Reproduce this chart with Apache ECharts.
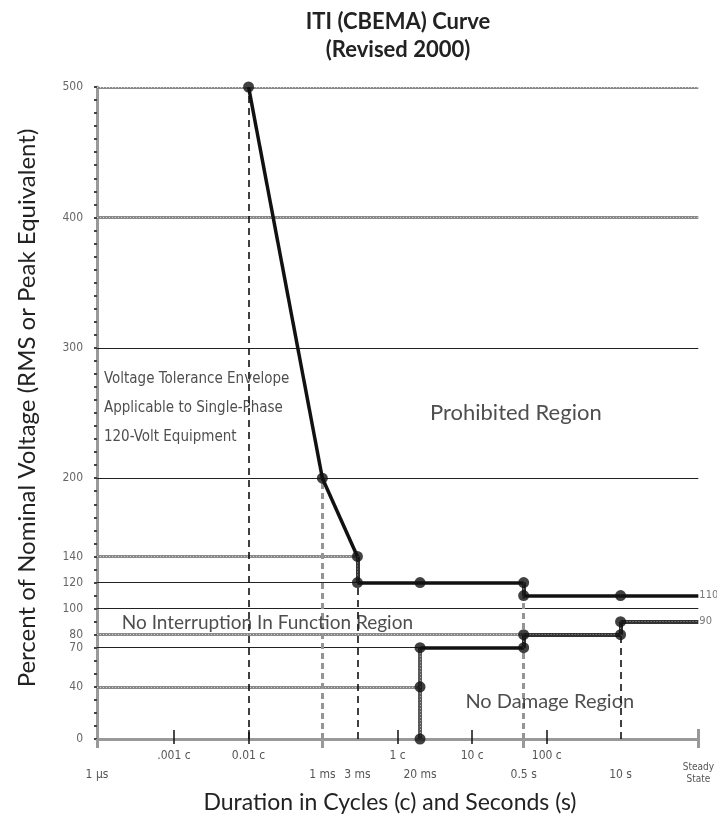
<!DOCTYPE html>
<html>
<head>
<meta charset="utf-8">
<script src="https://cdn.jsdelivr.net/npm/echarts@6/dist/echarts.min.js"></script>
<style>html,body{margin:0;padding:0;background:#fff}#c{width:717px;height:824px}</style>
</head>
<body>
<div id="c"></div>
<script>
// ---- tick labels and their (schematic, log-like) axis positions ----
const cycleTicks = ['.001 c', '0.01 c', '1 c', '10 c', '100 c'];
const cyclePos   = [-3, -2, 0, 1, 2];
const timeTicks  = ['1 µs', '1 ms', '3 ms', '20 ms', '0.5 s', '10 s'];
const timePos    = [-4.033, -1.01, -0.54, 0.3, 1.69, 2.99];
const steadyLabel = 'Steady State';
const steadyPos   = 4.033;
const yTickLabels = [0, 40, 70, 80, 100, 120, 140, 200, 300, 400, 500];

// ---- ITI curve ----
const upperDur = ['0.01 c', '1 ms', '3 ms', '3 ms', '20 ms', '0.5 s', '0.5 s', '10 s', 'Steady State'];
const upperPct = [500, 200, 140, 120, 120, 120, 110, 110, 110];
const lowerDur = ['20 ms', '20 ms', '20 ms', '0.5 s', '0.5 s', '10 s', '10 s', 'Steady State'];
const lowerPct = [0, 40, 70, 70, 80, 80, 90, 90];

// ---- reference grid lines (start at 1 µs) ----
const gridPct = [500, 400, 300, 200, 140, 120, 100, 80, 70, 40];
const gridEnd = ['Steady State', 'Steady State', 'Steady State', 'Steady State', '3 ms', '3 ms', 'Steady State', '0.5 s', '20 ms', '20 ms'];

// ---- vertical drop lines ----
const dropDur = ['0.01 c', '1 ms', '3 ms', '0.5 s', '10 s'];
const dropTop = [500, 200, 120, 110, 80];

// ---- styles (kept apart from the data) ----
const upperKind = ['bold', 'bold', 'darkhatch', 'bold', 'bold', 'darkhatch', 'bold', 'bold'];
const lowerKind = ['hatch2', 'hatch2', 'bold', 'darkhatch', 'darkhatch', 'darkhatch', 'darkhatch'];
const gridKind  = ['hatch', 'hatch', 'thin', 'thin', 'hatch', 'thin', 'thin', 'hatch', 'thin', 'hatch'];
const dropKind  = ['dash', 'hatchdash', 'dash', 'hatchdash', 'dash'];
const STY = {
  thin: [{color: '#222', width: 1.2}],
  hatch: [{color: '#8a8a8a', width: 3.2}, {color: '#d4d4d4', width: 1, type: [1, 2]}],
  hatch2: [{color: '#5a5a5a', width: 4}, {color: '#b0b0b0', width: 1, type: [1, 2]}],
  darkhatch: [{color: '#333', width: 4}, {color: '#999', width: 1, type: [1, 2]}],
  bold: [{color: '#111', width: 3.5}],
  dash: [{color: '#111', width: 1.6, type: [7, 5]}],
  hatchdash: [{color: '#959595', width: 3, type: [6, 4]}]
};

const NARROW = "'Liberation Sans Narrow','DejaVu Sans Condensed',sans-serif";
const SANS = "Lato,'Open Sans',sans-serif";

const posOf = (name) => {
  if (name === steadyLabel) return steadyPos;
  let i = timeTicks.indexOf(name);
  if (i >= 0) return timePos[i];
  i = cycleTicks.indexOf(name);
  return cyclePos[i];
};
const labelAt = (vals, labels) => (v) => {
  for (let i = 0; i < vals.length; i++) if (Math.abs(vals[i] - v) < 1e-6) return labels[i];
  return '';
};

function segs(durs, pcts, kinds) {
  const out = [];
  for (let i = 0; i < durs.length - 1; i++) {
    STY[kinds[i]].forEach(ls => out.push({
      coords: [[posOf(durs[i]), pcts[i]], [posOf(durs[i + 1]), pcts[i + 1]]],
      lineStyle: Object.assign({opacity: 1}, ls)
    }));
  }
  return out;
}
const gridData = [];
gridPct.forEach((p, i) => STY[gridKind[i]].forEach(ls => gridData.push({
  coords: [[timePos[0], p], [posOf(gridEnd[i]), p]], lineStyle: Object.assign({opacity: 1}, ls)
})));
const dropData = [];
dropDur.forEach((d, i) => STY[dropKind[i]].forEach(ls => dropData.push({
  coords: [[posOf(d), 0], [posOf(d), dropTop[i]]], lineStyle: Object.assign({opacity: 1}, ls)
})));

const markerPts = [];
upperDur.forEach((d, i) => { if (d !== steadyLabel) markerPts.push([posOf(d), upperPct[i]]); });
lowerDur.forEach((d, i) => { if (d !== steadyLabel) markerPts.push([posOf(d), lowerPct[i]]); });

const baseX = {type: 'value', gridIndex: 0, position: 'bottom', min: timePos[0], max: steadyPos,
  splitLine: {show: false}, axisLine: {show: false}};

const chart = echarts.init(document.getElementById('c'));
chart.setOption({
  animation: false,
  backgroundColor: '#fff',
  grid: {left: 97, top: 87, width: 603, height: 652},
  graphic: [
    {type: 'text', style: {text: 'ITI (CBEMA) Curve', x: 398, y: 22, textAlign: 'center', textVerticalAlign: 'middle',
      font: "bold 22px " + SANS, fill: '#222'}},
    {type: 'text', style: {text: '(Revised 2000)', x: 398, y: 50, textAlign: 'center', textVerticalAlign: 'middle',
      font: "bold 22px " + SANS, fill: '#222'}},
    {type: 'text', style: {text: 'Duration in Cycles (c) and Seconds (s)', x: 390, y: 803, textAlign: 'center',
      textVerticalAlign: 'middle', font: "23px " + SANS, fill: '#222'}},
    {type: 'text', x: 27, y: 408, rotation: Math.PI / 2,
      style: {text: 'Percent of Nominal Voltage (RMS or Peak Equivalent)', x: 0, y: 0, textAlign: 'center',
      textVerticalAlign: 'middle', font: "24px " + SANS, fill: '#222'}}
  ],
  xAxis: [
    Object.assign({}, baseX, {
      axisLine: {show: true, onZero: false, lineStyle: {color: '#999', width: 3}},
      axisTick: {show: true, customValues: cyclePos, inside: true, length: 9, lineStyle: {color: '#111', width: 1.5}},
      axisLabel: {customValues: cyclePos, formatter: labelAt(cyclePos, cycleTicks), margin: 11,
        fontSize: 12, color: '#555', fontFamily: NARROW}
    }),
    Object.assign({}, baseX, {
      axisTick: {show: true, customValues: cyclePos, inside: false, length: 5, lineStyle: {color: '#111', width: 1.5}},
      axisLabel: {customValues: timePos, formatter: labelAt(timePos, timeTicks), margin: 30,
        fontSize: 12, color: '#555', fontFamily: NARROW}
    }),
    Object.assign({}, baseX, {
      axisTick: {show: true, customValues: [timePos[0], timePos[1], timePos[4], steadyPos], inside: false, length: 9,
        lineStyle: {color: '#999', width: 3}},
      axisLabel: {show: false}
    }),
    Object.assign({}, baseX, {
      axisTick: {show: true, customValues: [steadyPos], inside: true, length: 10, lineStyle: {color: '#999', width: 3}},
      axisLabel: {customValues: [steadyPos], formatter: () => 'Steady\nState', margin: 22,
        fontSize: 10, lineHeight: 12, color: '#555', fontFamily: NARROW}
    })
  ],
  yAxis: {
    type: 'value', min: 0, max: 500, interval: 10,
    splitLine: {show: false},
    axisLine: {show: true, onZero: false, lineStyle: {color: '#999', width: 3}},
    axisTick: {show: true, length: 3, lineStyle: {color: '#444', width: 2}},
    axisLabel: {customValues: yTickLabels, margin: 14, fontSize: 12, color: '#666', fontFamily: NARROW}
  },
  series: [
    {type: 'lines', coordinateSystem: 'cartesian2d', z: 1, silent: true, data: gridData},
    {type: 'lines', coordinateSystem: 'cartesian2d', z: 2, silent: true, data: dropData},
    {type: 'lines', coordinateSystem: 'cartesian2d', z: 3, silent: true,
      data: segs(upperDur, upperPct, upperKind).concat(segs(lowerDur, lowerPct, lowerKind))},
    {type: 'scatter', z: 4, symbol: 'circle', symbolSize: 11, itemStyle: {color: '#111'}, data: markerPts},
    {type: 'scatter', z: 4, symbolSize: 0,
      data: [[steadyPos, upperPct[upperPct.length - 1]], [steadyPos, lowerPct[lowerPct.length - 1]]],
      label: {show: true, position: 'right', distance: 1, formatter: p => String(p.value[1]),
        fontSize: 11, color: '#555', fontFamily: NARROW}},
    {type: 'scatter', z: 5, symbolSize: 0, silent: true,
      data: [
        {value: [1.585, 250], label: {formatter: 'Prohibited Region', position: 'inside', fontSize: 22}},
        {value: [-3.70, 89], label: {formatter: 'No Interruption In Function Region', position: 'right', distance: 0, fontSize: 19}},
        {value: [2.04, 29], label: {formatter: 'No Damage Region', position: 'inside', fontSize: 20}},
        {value: [-3.94, 254], label: {formatter: 'Voltage Tolerance Envelope\nApplicable to Single-Phase\n120-Volt Equipment',
          position: 'right', distance: 0, fontSize: 15, lineHeight: 29, fontFamily: NARROW, align: 'left'}}
      ],
      label: {show: true, color: '#222', fontFamily: SANS}}
  ]
});
</script>
</body>
</html>
